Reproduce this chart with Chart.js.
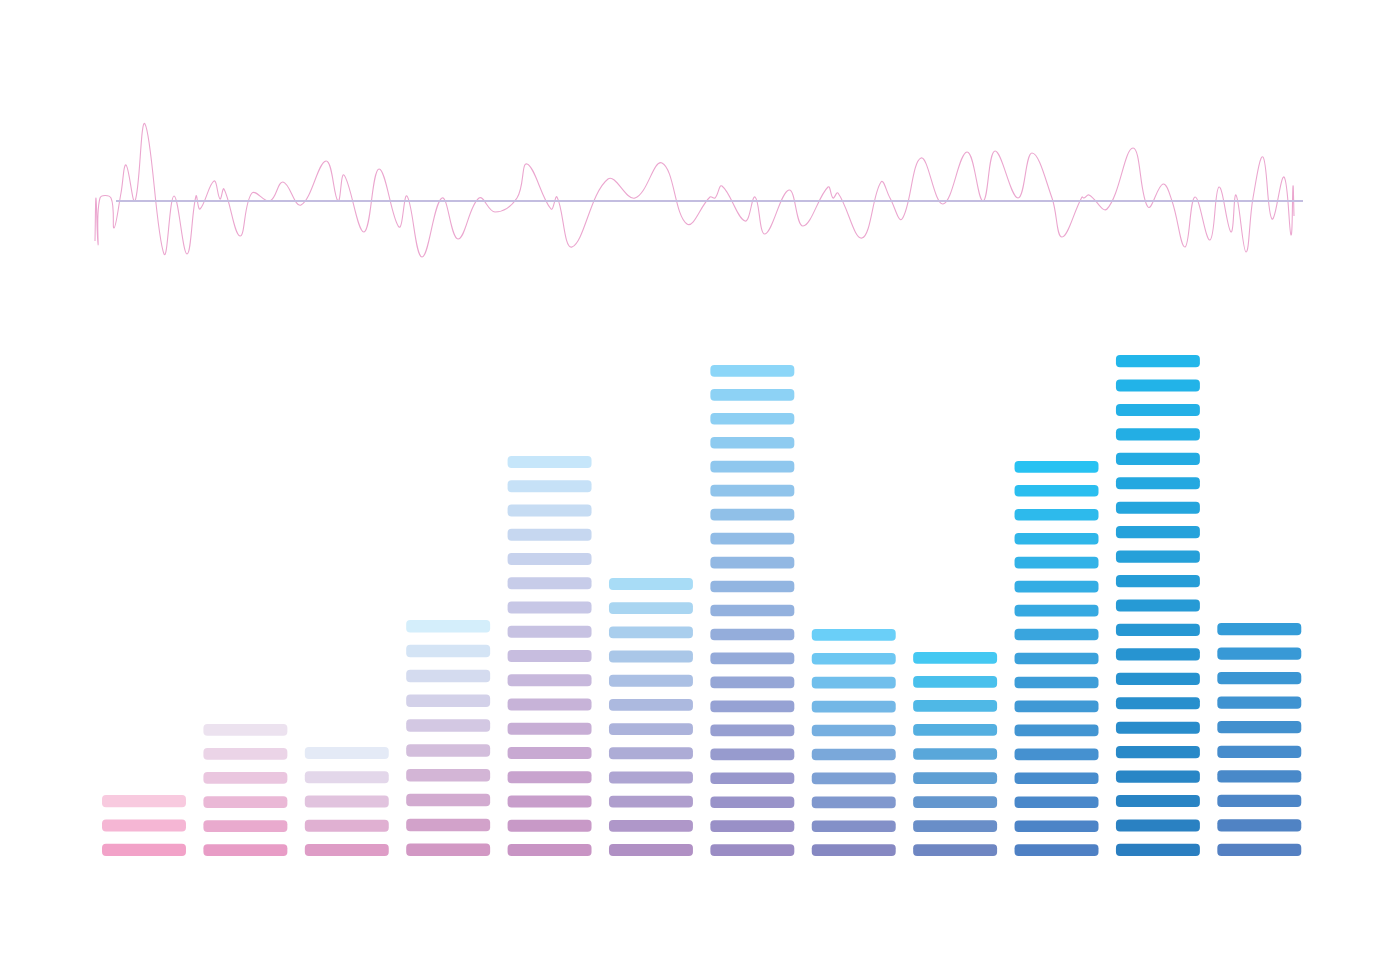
<!DOCTYPE html>
<html>
<head>
<meta charset="utf-8">
<script src="https://cdn.jsdelivr.net/npm/chart.js@4.4.1/dist/chart.umd.min.js"></script>
<style>
  html, body { margin: 0; padding: 0; background: #ffffff; }
  body { width: 1400px; height: 980px; position: relative; overflow: hidden; font-family: "Noto Sans", sans-serif; }
  #waveWrap { position: absolute; left: 0; top: 101px; width: 1400px; height: 200px; }
  #barWrap { position: absolute; left: 0; top: 336px; width: 1400px; height: 520px; }
</style>
</head>
<body>
<div id="waveWrap"><canvas id="wave"></canvas></div>
<div id="barWrap"><canvas id="bars"></canvas></div>
<script>
// ---- Waveform data (x position, screen y) ----
const waveX = [95,96,98,100,111,114,121,126,135,145,164,174,187,196,200,214,220,224,240,252,270,283,301,326,338,344,364,379,399,407,422,442,458,479,495,517,527,551,557,572,608,635,662,687,710,715,722,745,755,765,789,803,828,833,838,862,881,890,902,921,943,967,983,995,1018,1032,1052,1062,1082,1084,1089,1107,1133,1148,1163,1172,1185,1195,1210,1219,1231,1236,1246,1253,1263,1272,1284,1291,1293,1294];
const waveY = [241,198,245,198,198,228,193,165,201,124,254,196,254,196,209,181,199,189,236,193,201,182,205,161,201,175,232,169,227,196,257,198,239,198,212,198,164,209,197,247,179,198,163,224,197,198,186,221,197,234,190,226,187,198,193,238,182,198,219,158,204,152,201,151,198,153,198,237,197,198,195,209,148,207,184,201,247,197,240,187,232,195,252,198,157,219,177,235,186,216];
const waveAmp = waveY.map(v => 201 - v);
const baselineX = [116, 1303];
const baselineAmp = [0, 0];

// ---- Bar data ----
const categories = ["1","2","3","4","5","6","7","8","9","10","11","12"];
const barHeights = [61, 132, 109, 236, 400, 278, 491, 227, 204, 395, 501, 233];
const segmentCounts = [3, 6, 5, 10, 17, 12, 21, 10, 9, 17, 21, 10];

// ---- Styles ----
const bottomColors = ["#f2a2c8","#e89cc6","#de9cc6","#d298c4","#c894c4","#b090c4","#9a8cc4","#8688c2","#6e86c2","#4e80c4","#2a7ec0","#5480c2"];
const topColors    = ["#f8cadf","#ece2ef","#e4eaf6","#d4eefb","#c6e6fa","#a8dcf6","#8cd6f8","#6acff8","#44c8f2","#28c2f2","#22b6ea","#349cd8"];
const GAP = 12.3;

function hexToRgb(h) {
  const n = parseInt(h.slice(1), 16);
  return [(n >> 16) & 255, (n >> 8) & 255, n & 255];
}
function mix(a, b, t) {
  const A = hexToRgb(a), B = hexToRgb(b);
  const c = A.map((v, i) => Math.round(v + (B[i] - v) * t));
  return `rgb(${c[0]},${c[1]},${c[2]})`;
}

// Wave chart
new Chart(document.getElementById('wave'), {
  type: 'scatter',
  data: {
    datasets: [
      {
        data: baselineX.map((x, i) => ({ x, y: baselineAmp[i] })),
        showLine: true,
        borderColor: '#c3bde0',
        borderWidth: 2,
        pointRadius: 0,
        tension: 0
      },
      {
        data: waveX.map((x, i) => ({ x, y: waveAmp[i] })),
        showLine: true,
        borderColor: '#eba6cf',
        borderWidth: 1.1,
        pointRadius: 0,
        tension: 0.4
      }
    ]
  },
  options: {
    responsive: true,
    maintainAspectRatio: false,
    animation: false,
    layout: { padding: 0 },
    plugins: { legend: { display: false }, tooltip: { enabled: false } },
    scales: {
      x: { type: 'linear', min: 0, max: 1400, display: false },
      y: { type: 'linear', min: -100, max: 100, display: false }
    }
  }
});

// Segmented bars: one dataset per layer
const maxLayers = Math.max(...segmentCounts);
const layerSets = [];
for (let k = 0; k < maxLayers; k++) {
  layerSets.push({
    data: categories.map((c, i) => {
      const n = segmentCounts[i];
      if (k >= n) return null;
      const pitch = (barHeights[i] + GAP) / n;
      const lo = k * pitch;
      return [lo, lo + pitch - GAP];
    }),
    backgroundColor: (ctx) => {
      const i = ctx.dataIndex;
      const n = segmentCounts[i];
      const t = n > 1 ? ctx.datasetIndex / (n - 1) : 0;
      return mix(bottomColors[i], topColors[i], t);
    },
    borderWidth: 0,
    borderRadius: 4,
    borderSkipped: false,
    grouped: false,
    barPercentage: 0.828,
    categoryPercentage: 1.0
  });
}

new Chart(document.getElementById('bars'), {
  type: 'bar',
  data: { labels: categories, datasets: layerSets },
  options: {
    responsive: true,
    maintainAspectRatio: false,
    animation: false,
    layout: { padding: { left: 93.3, right: 90, top: 0, bottom: 0 } },
    plugins: { legend: { display: false }, tooltip: { enabled: false } },
    scales: {
      x: { display: false },
      y: { display: false, min: 0, max: 520 }
    }
  }
});
</script>
</body>
</html>
